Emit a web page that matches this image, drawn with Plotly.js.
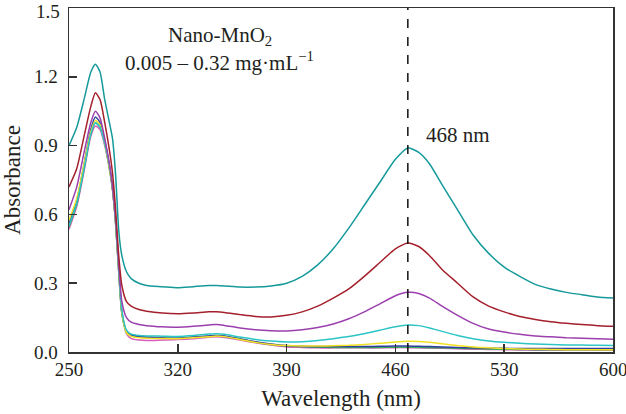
<!DOCTYPE html>
<html>
<head>
<meta charset="utf-8">
<script src="https://cdn.plot.ly/plotly-3.0.1.min.js"></script>
<style>
html, body { margin: 0; padding: 0; background: #fff; }
#display { width: 626px; height: 414px; }
</style>
</head>
<body>
<div id="display"></div>
<script>
// wavelength grid (nm), shared by every spectrum
let wl = [250,255,260,264,267,270,273,276,278,280,282,284,287,290,295,300,310,320,330,340,345,350,360,370,380,390,400,410,420,430,440,450,460,468,475,482,490,500,510,520,530,540,550,560,570,580,590,600];

// absorbance, highest concentration first
let teal = [0.90,0.98,1.11,1.22,1.255,1.22,1.10,1.00,0.93,0.77,0.53,0.42,0.35,0.32,0.30,0.29,0.285,0.28,0.285,0.29,0.29,0.288,0.283,0.283,0.288,0.30,0.33,0.38,0.45,0.54,0.64,0.74,0.84,0.89,0.87,0.82,0.73,0.62,0.51,0.43,0.37,0.33,0.295,0.275,0.26,0.25,0.24,0.235];
let red = [0.72,0.80,0.95,1.07,1.13,1.10,1.00,0.88,0.78,0.62,0.42,0.29,0.22,0.20,0.185,0.178,0.17,0.167,0.17,0.175,0.175,0.172,0.163,0.155,0.153,0.16,0.175,0.20,0.235,0.275,0.33,0.39,0.45,0.475,0.46,0.42,0.36,0.30,0.24,0.20,0.175,0.155,0.142,0.132,0.125,0.12,0.115,0.112];
let purple = [0.62,0.72,0.88,1.00,1.05,1.02,0.93,0.82,0.72,0.58,0.38,0.22,0.15,0.13,0.12,0.115,0.11,0.108,0.112,0.118,0.12,0.116,0.105,0.097,0.093,0.092,0.097,0.107,0.122,0.145,0.175,0.21,0.245,0.26,0.255,0.235,0.20,0.16,0.125,0.10,0.087,0.077,0.07,0.066,0.062,0.06,0.058,0.056];
let cyan = [0.55,0.65,0.81,0.95,1.00,0.98,0.91,0.81,0.72,0.57,0.36,0.18,0.095,0.078,0.072,0.07,0.069,0.068,0.072,0.078,0.08,0.077,0.065,0.055,0.048,0.044,0.045,0.05,0.058,0.068,0.08,0.095,0.11,0.118,0.115,0.105,0.09,0.072,0.058,0.048,0.042,0.038,0.035,0.033,0.031,0.03,0.029,0.028];
let yellow = [0.575,0.67,0.83,0.96,1.01,0.99,0.91,0.80,0.71,0.56,0.35,0.17,0.085,0.068,0.062,0.06,0.059,0.058,0.062,0.066,0.07,0.067,0.055,0.042,0.033,0.028,0.026,0.026,0.027,0.029,0.033,0.038,0.044,0.047,0.046,0.042,0.036,0.028,0.022,0.018,0.015,0.013,0.012,0.011,0.01,0.01,0.01,0.01];
let blue = [0.56,0.66,0.83,0.97,1.025,1.00,0.92,0.81,0.71,0.56,0.35,0.17,0.09,0.075,0.068,0.065,0.062,0.06,0.065,0.07,0.072,0.07,0.058,0.045,0.035,0.028,0.025,0.024,0.024,0.024,0.024,0.025,0.026,0.026,0.025,0.024,0.022,0.02,0.018,0.017,0.016,0.015,0.015,0.015,0.015,0.015,0.015,0.015];
let green = [0.545,0.645,0.81,0.95,1.00,0.98,0.91,0.80,0.71,0.56,0.35,0.17,0.085,0.07,0.065,0.063,0.061,0.06,0.064,0.069,0.071,0.068,0.056,0.043,0.033,0.026,0.023,0.021,0.02,0.02,0.02,0.02,0.021,0.021,0.02,0.019,0.018,0.016,0.015,0.013,0.012,0.011,0.01,0.01,0.01,0.01,0.01,0.01];
let pink = [0.535,0.635,0.80,0.94,0.985,0.97,0.90,0.80,0.71,0.57,0.37,0.18,0.08,0.058,0.052,0.05,0.052,0.054,0.058,0.064,0.066,0.063,0.052,0.04,0.03,0.022,0.02,0.018,0.018,0.018,0.018,0.018,0.019,0.019,0.018,0.017,0.016,0.014,0.012,0.011,0.01,0.009,0.008,0.008,0.008,0.008,0.008,0.008];

let series = [teal, red, purple, cyan, yellow, blue, green, pink];
let colors = ['#16999a','#a3202c','#9c3fae','#2cc4c4','#f2e225','#2f3f9e','#3caa5c','#d95cbc'];

// tick positions; the two edge labels that would poke past the page are
// written as annotations (plotly hides overflowing tick labels)
let xticks = [250,320,390,460,530,600];
let xlabels = ['250','320','390','460','530',''];
let yticks = [0,0.3,0.6,0.9,1.2,1.5];
let ylabels = ['0.0','0.3','0.6','0.9','1.2',''];

let traces = [];
for (var i = series.length - 1; i >= 0; i--) {
	traces.push({
		x: wl,
		y: series[i],
		mode: 'lines',
		line: {color: colors[i], width: 1.5, shape: 'spline', smoothing: 0.6},
		hoverinfo: 'skip'
	});
}

let serif = 'Liberation Serif, Times New Roman, serif';
let ink = '#231f20';
let tickfont = {family: serif, size: 19, color: ink};
let titlefont = {family: serif, size: 23, color: ink};
let notefont = {family: serif, size: 21, color: ink};

let layout = {
	width: 626,
	height: 414,
	margin: {l: 69, r: 13, t: 8, b: 62},
	paper_bgcolor: '#fff',
	plot_bgcolor: '#fff',
	showlegend: false,
	font: tickfont,
	xaxis: {
		range: [250, 600],
		tickvals: xticks,
		ticktext: xlabels,
		ticks: 'inside',
		ticklen: 8,
		tickwidth: 1.5,
		tickcolor: '#333',
		showline: true,
		linecolor: '#333',
		linewidth: 1.5,
		mirror: true,
		showgrid: false,
		zeroline: false,
		tickfont: tickfont,
		automargin: false,
		title: {text: 'Wavelength (nm)', font: titlefont, standoff: 10}
	},
	yaxis: {
		range: [0, 1.5],
		tickvals: yticks,
		ticktext: ylabels,
		ticks: 'inside',
		ticklen: 8,
		tickwidth: 1.5,
		tickcolor: '#333',
		showline: true,
		linecolor: '#333',
		linewidth: 1.5,
		mirror: true,
		showgrid: false,
		zeroline: false,
		tickfont: tickfont,
		automargin: false,
		ticklabelstandoff: 6,
		title: {text: 'Absorbance', font: titlefont, standoff: 10}
	},
	shapes: [{
		type: 'line', xref: 'x', yref: 'paper',
		x0: 468, x1: 468, y0: 0, y1: 1,
		line: {color: '#111', width: 1.5, dash: 'dash'}
	}],
	annotations: [
		{x: 600, y: 0, xref: 'x', yref: 'paper', yanchor: 'top', yshift: -5, showarrow: false, text: '600', font: tickfont},
		{x: 0, y: 1.5, xref: 'paper', yref: 'y', xanchor: 'right', yanchor: 'top', xshift: -7, yshift: 9, showarrow: false, text: '1.5', font: tickfont},
		{x: 347, y: 1.38, xref: 'x', yref: 'y', showarrow: false, text: 'Nano-MnO<sub>2</sub>', font: notefont},
		{x: 347, y: 1.265, xref: 'x', yref: 'y', showarrow: false, text: '0.005 – 0.32 mg·mL<sup>−1</sup>', font: notefont},
		{x: 500, y: 0.946, xref: 'x', yref: 'y', showarrow: false, text: '468 nm', font: notefont}
	]
};

Plotly.newPlot('display', traces, layout, {staticPlot: true});
</script>
</body>
</html>
